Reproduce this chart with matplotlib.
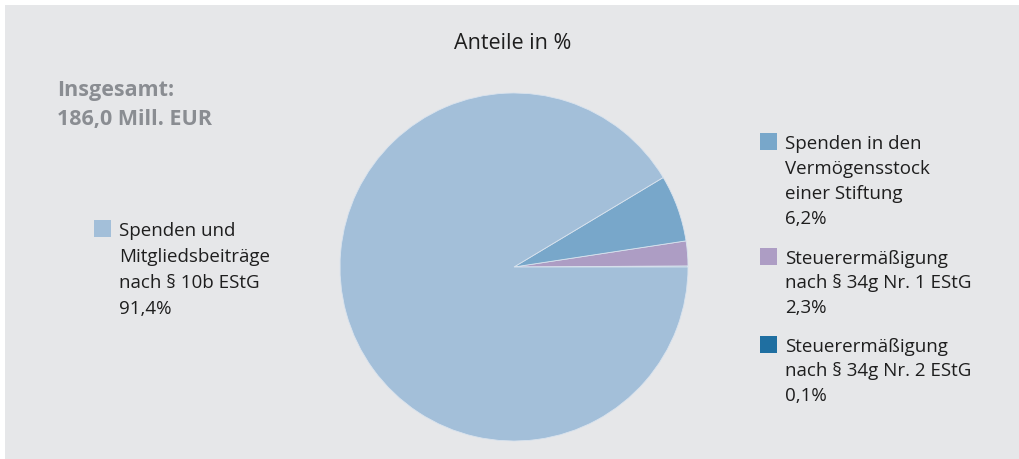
import matplotlib
matplotlib.use("Agg")
import matplotlib.pyplot as plt
from matplotlib.patches import Rectangle

plt.rcParams['font.family'] = ['Open Sans', 'DejaVu Sans']

# Daten (Anteile in %), gegen den Uhrzeigersinn ab 3 Uhr
labels = [
    "Steuerermäßigung\nnach § 34g Nr. 2 EStG",
    "Steuerermäßigung\nnach § 34g Nr. 1 EStG",
    "Spenden in den\nVermögensstock\neiner Stiftung",
    "Spenden und\nMitgliedsbeiträge\nnach § 10b EStG",
]
shares = [0.1, 2.3, 6.2, 91.4]
share_text = ["0,1%", "2,3%", "6,2%", "91,4%"]
colors = ["#1f6fa1", "#ad9dc4", "#78a7ca", "#a3bfd9"]

title = "Anteile in %"
total_text = ["Insgesamt:", "186,0 Mill. EUR"]

bg = "#e6e7e9"
txt = "#1e1e1e"
W, H = 1020, 460

fig = plt.figure(figsize=(W / 100, H / 100), dpi=100, facecolor=bg)
ax = fig.add_axes([0, 0, 1, 1])
# weisser Rand oben und links
ax.add_patch(Rectangle((0, 0), W, 6, facecolor="white", edgecolor="none", zorder=0))
ax.add_patch(Rectangle((0, 0), 5, H, facecolor="white", edgecolor="none", zorder=0))

ax.pie(shares, colors=colors, startangle=0, counterclock=False,
       center=(514, 268), radius=174,
       wedgeprops=dict(edgecolor="#d9e3ee", linewidth=0.6))

ax.set_xlim(0, W)
ax.set_ylim(H, 0)
ax.set_aspect("equal")
ax.axis("off")

fs = 13.5
ax.text(513, 49, title, ha="center", va="baseline", fontsize=15.5, color=txt)
for i, line in enumerate(total_text):
    ax.text(57, 96 + i * 29, line, ha="left", va="baseline", fontsize=15.5,
            color="#8a8d92", fontweight="bold")

# Legende: (Index, x Quadrat, y erste Grundlinie, Zeilenabstand)
legend_pos = [(3, 94, 236, 26), (2, 760, 149, 25), (1, 760, 264, 24.5), (0, 760, 352, 24.5)]
for idx, x, y0, dy in legend_pos:
    ax.add_patch(Rectangle((x, y0 - 15), 17, 17, facecolor=colors[idx], edgecolor="none"))
    lines = labels[idx].split("\n") + [share_text[idx]]
    for j, line in enumerate(lines):
        ax.text(x + 25, y0 + j * dy, line, ha="left", va="baseline", fontsize=fs, color=txt)

fig.savefig("out.png", dpi=100, facecolor=bg)
